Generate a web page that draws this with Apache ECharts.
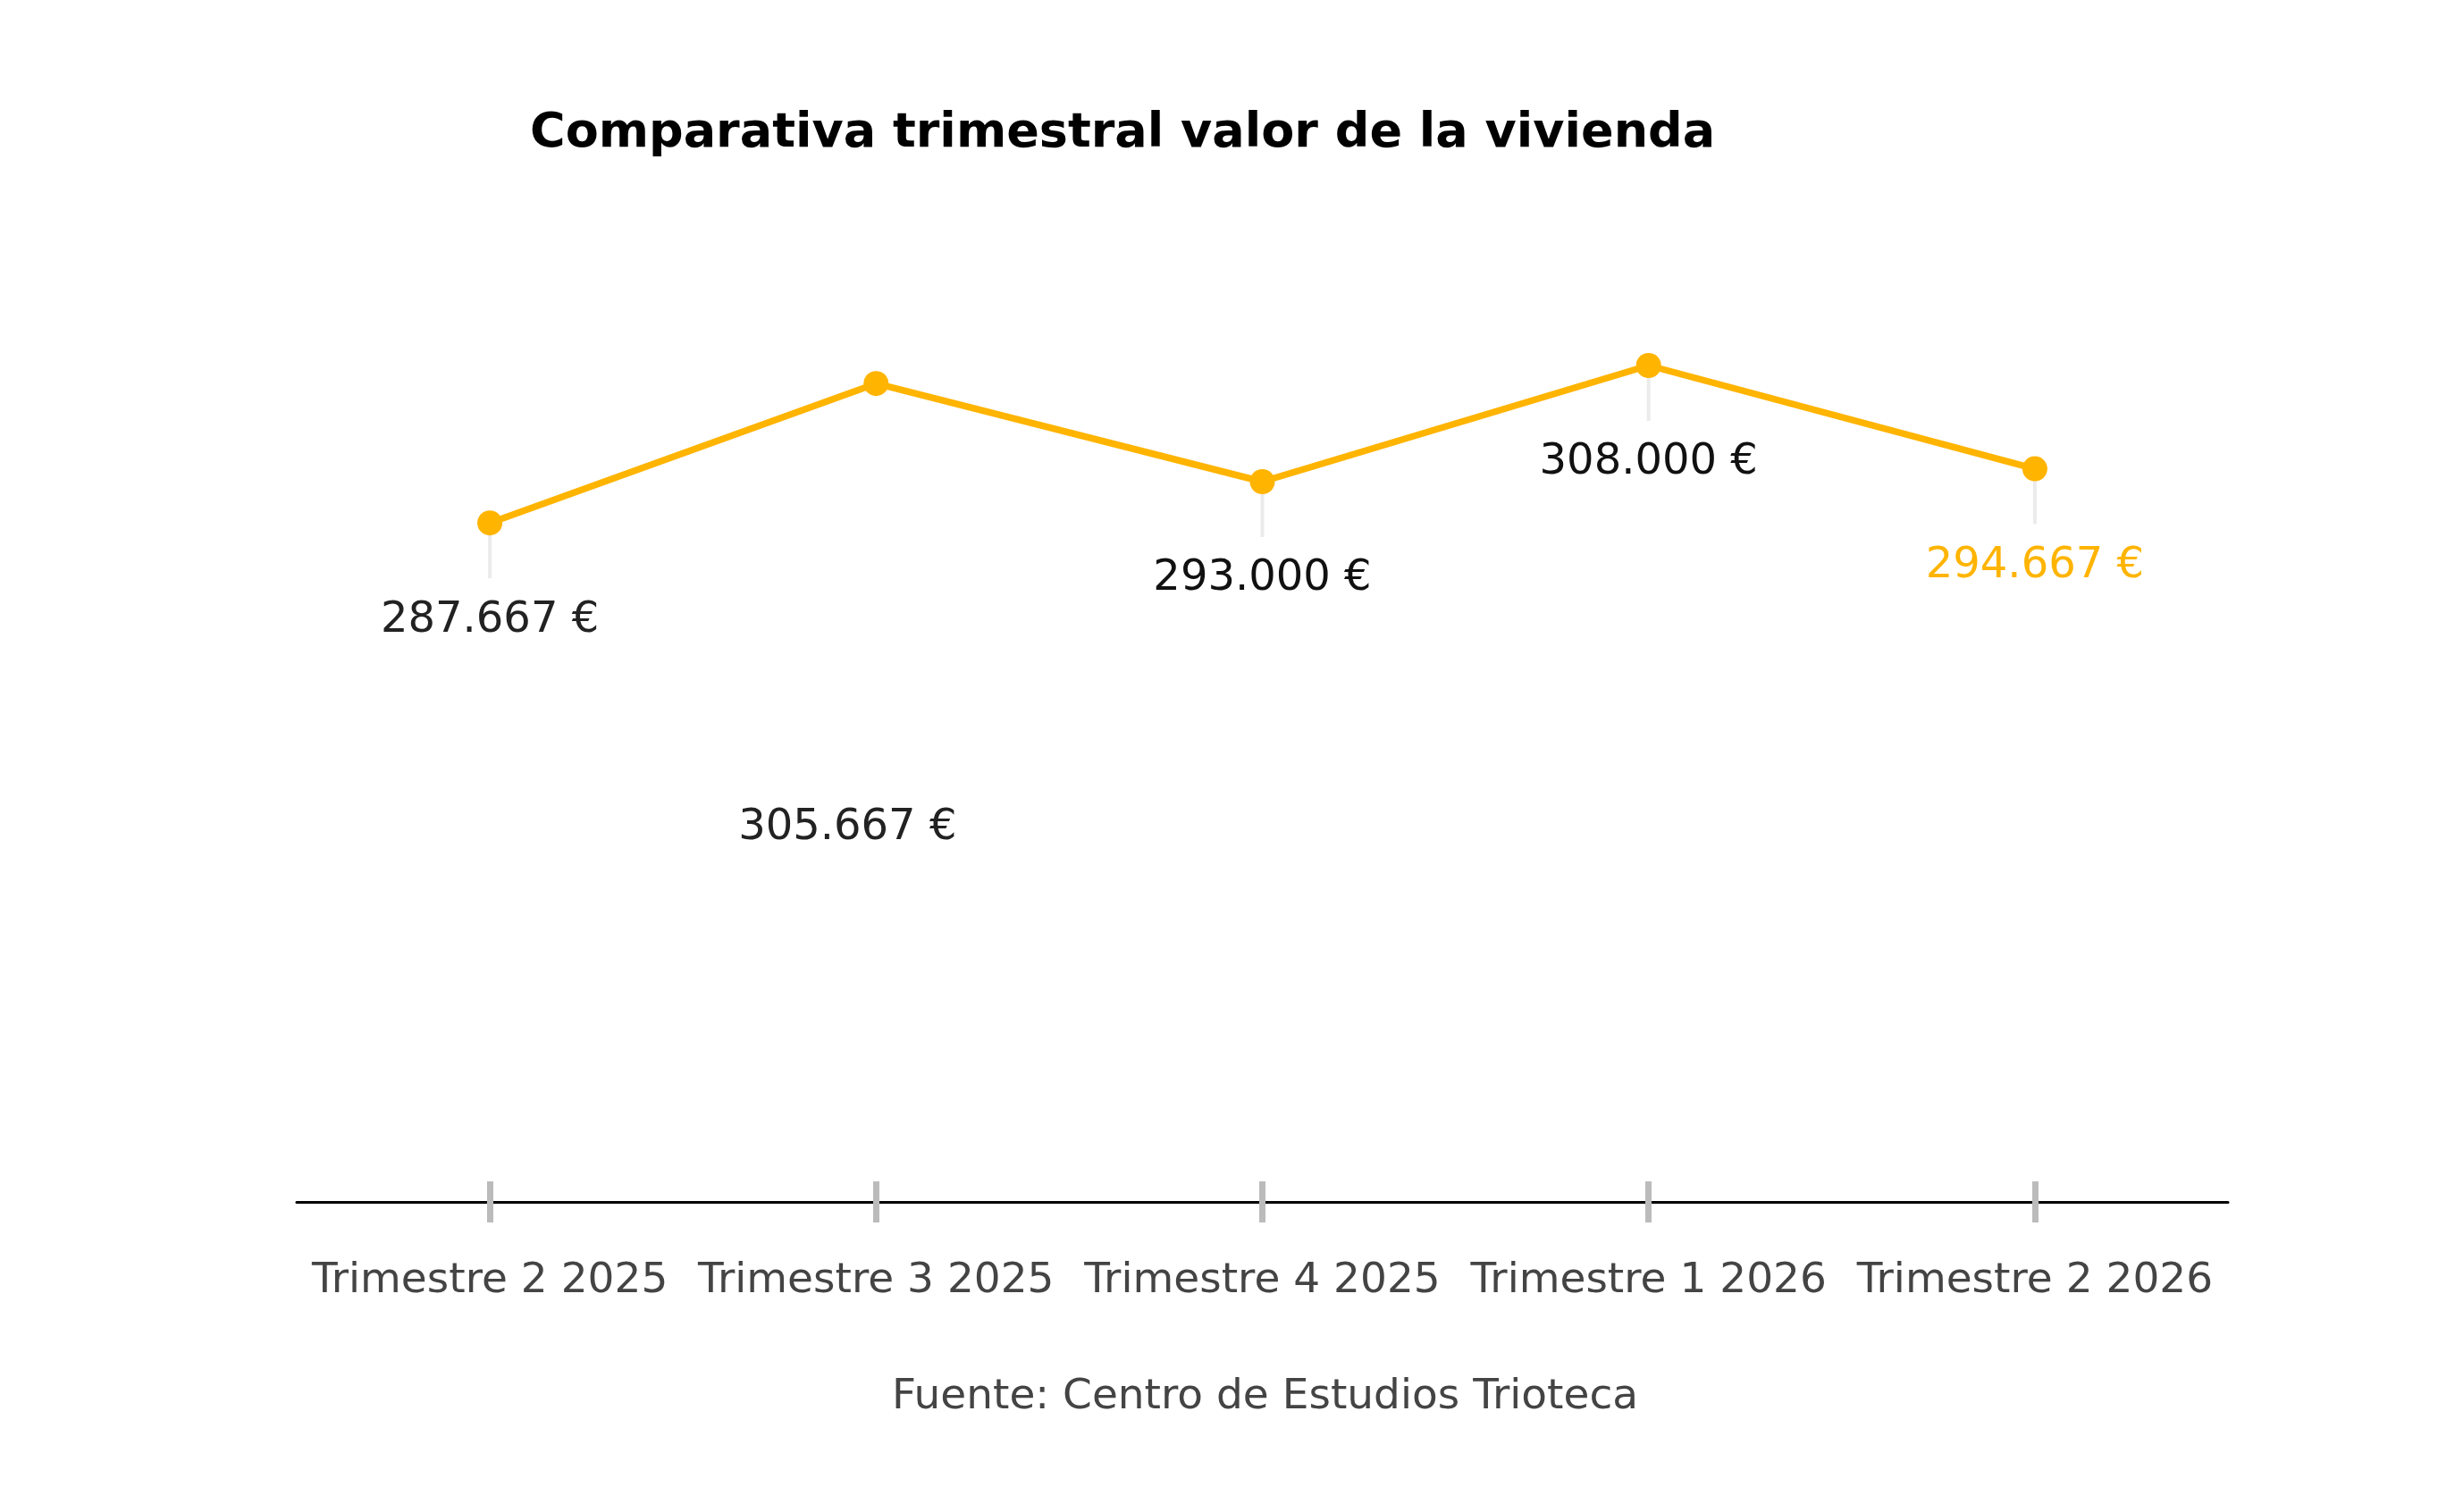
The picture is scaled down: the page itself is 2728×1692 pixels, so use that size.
<!DOCTYPE html>
<html>
<head>
<meta charset="utf-8">
<title>Comparativa trimestral valor de la vivienda</title>
<script src="https://cdn.jsdelivr.net/npm/echarts@6/dist/echarts.min.js"></script>
<style>
  html, body { margin: 0; padding: 0; background: #fff; }
  #chart1 { width: 2728px; height: 1692px; }
</style>
</head>
<body>
<div id="chart1"></div>
<script>
var quarters = ['Trimestre 2 2025', 'Trimestre 3 2025', 'Trimestre 4 2025', 'Trimestre 1 2026', 'Trimestre 2 2026'];
var housePrice = [287667, 305667, 293000, 308000, 294667];
var yMin = 200000;
var yMax = 320000;

// label placement per point (the 2nd one sits far below in the original)
var labelOffsets = [[0, 109], [-32, 497], [0, 109], [0, 109], [0, 109]];
var labelColors = ['#222222', '#222222', '#111111', '#111111', '#FFB400'];

function euro(value) {
    var s = Math.round(value).toString();
    return s.replace(/\B(?=(\d{3})+(?!\d))/g, '.') + ' €';
}

var myChart1 = echarts.init(document.getElementById('chart1'));

var lineData = [];
var stalkData = [];
for (var i = 0; i < housePrice.length; i++) {
    lineData.push({
        value: housePrice[i],
        label: {
            offset: labelOffsets[i],
            color: labelColors[i]
        }
    });
    stalkData.push([i, housePrice[i]]);
}

var option = {
    backgroundColor: '#ffffff',
    animation: false,
    title: [
        {
            text: 'Comparativa trimestral valor de la vivienda',
            left: 588,
            top: 118,
            textStyle: {
                fontFamily: 'DejaVu Sans',
                fontWeight: 'bold',
                fontSize: 54,
                color: '#000000'
            }
        },
        {
            text: 'Fuente: Centro de Estudios Trioteca',
            left: 993,
            top: 1535,
            textStyle: {
                fontFamily: 'DejaVu Sans',
                fontWeight: 'normal',
                fontSize: 47,
                color: '#444444'
            }
        }
    ],
    grid: {
        left: 332,
        right: 235,
        top: 305,
        bottom: 347
    },
    xAxis: [
        {
            type: 'category',
            data: quarters,
            position: 'bottom',
            boundaryGap: true,
            axisLine: { show: true, lineStyle: { color: '#000000', width: 3 } },
            axisTick: { show: true, interval: 0, alignWithLabel: true, length: 23, lineStyle: { color: '#bbbbbb', width: 7 } },
            axisLabel: {
                interval: 0,
                margin: 65,
                fontFamily: 'DejaVu Sans',
                fontSize: 47,
                color: '#444444'
            },
            splitLine: { show: false }
        },
        {
            // second axis only to draw the upper half of the ticks
            type: 'category',
            data: quarters,
            position: 'bottom',
            boundaryGap: true,
            axisLine: { show: false },
            axisTick: { show: true, interval: 0, inside: true, alignWithLabel: true, length: 23, lineStyle: { color: '#bbbbbb', width: 7 } },
            axisLabel: { show: false, interval: 0 },
            splitLine: { show: false }
        }
    ],
    yAxis: {
        type: 'value',
        show: false,
        min: yMin,
        max: yMax,
        splitLine: { show: false }
    },
    series: [
        {
            name: 'stalks',
            type: 'custom',
            xAxisIndex: 0,
            z: 1,
            silent: true,
            data: stalkData,
            renderItem: function (params, api) {
                var idx = params.dataIndex;
                if (labelOffsets[idx][0] !== 0) {
                    return null;
                }
                var p = api.coord([api.value(0), api.value(1)]);
                return {
                    type: 'line',
                    shape: { x1: p[0], y1: p[1], x2: p[0], y2: p[1] + 62 },
                    style: { stroke: '#ebebeb', lineWidth: 4 }
                };
            }
        },
        {
            name: 'Valor de la vivienda',
            type: 'line',
            xAxisIndex: 0,
            z: 3,
            data: lineData,
            symbol: 'circle',
            symbolSize: 28,
            showSymbol: true,
            itemStyle: { color: '#FFB400' },
            lineStyle: { color: '#FFB400', width: 7.5 },
            label: {
                show: true,
                position: 'inside',
                fontFamily: 'DejaVu Sans',
                fontSize: 48,
                formatter: function (p) {
                    return euro(p.value);
                }
            }
        }
    ]
};

myChart1.setOption(option);
</script>
</body>
</html>
